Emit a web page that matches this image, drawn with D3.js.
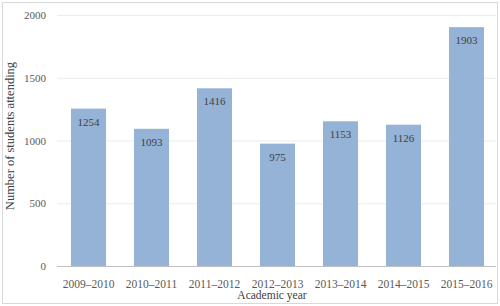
<!DOCTYPE html>
<html>
<head>
<meta charset="utf-8">
<script src="https://cdn.jsdelivr.net/npm/d3@7"></script>
<style>
  body { margin: 0; background: #fff; }
  text { font-family: "Liberation Serif", "DejaVu Serif", serif; }
</style>
</head>
<body>
<div id="container"></div>
<script>
let years = ["2009\u20132010", "2010\u20132011", "2011\u20132012", "2012\u20132013", "2013\u20132014", "2014\u20132015", "2015\u20132016"];
let students = [1254, 1093, 1416, 975, 1153, 1126, 1903];
let yTicks = [0, 500, 1000, 1500, 2000];

let w = 500;
let h = 306;
let viz = d3.select("#container")
  .append("svg")
  .attr("width", w)
  .attr("height", h);

// outer chart border
viz.append("rect")
  .attr("x", 2.5).attr("y", 2.5)
  .attr("width", w - 5).attr("height", h - 5)
  .attr("fill", "#fff")
  .attr("stroke", "#d9d9d9");

let data = years.map(function (y, i) { return { year: y, value: students[i] }; });

let xScale = d3.scaleBand().domain(years).range([57, 498])
  .paddingInner(0.444).paddingOuter(0.222);
let yScale = d3.scaleLinear().domain([0, 2000]).range([266, 15]);

// gridlines
viz.append("g").selectAll("line").data(yTicks.slice(1)).enter()
  .append("line")
  .attr("x1", 57).attr("x2", 496)
  .attr("y1", function (d) { return yScale(d) + 0.5; })
  .attr("y2", function (d) { return yScale(d) + 0.5; })
  .attr("stroke", "#ebebeb");

// y axis labels
let yAxis = d3.axisLeft(yScale).tickValues(yTicks).tickFormat(d3.format("d"))
  .tickSize(0).tickPadding(0);
let yAxisGroup = viz.append("g").attr("transform", "translate(46,0)").call(yAxis);
yAxisGroup.select(".domain").remove();
yAxisGroup.selectAll("text")
  .attr("fill", "#595959")
  .style("font-size", "11px");

// bars
viz.append("g").selectAll("rect").data(data).enter()
  .append("rect")
  .attr("fill", "#95b3d7")
  .attr("x", function (d) { return xScale(d.year); })
  .attr("width", xScale.bandwidth())
  .attr("y", function (d) { return yScale(d.value); })
  .attr("height", function (d) { return yScale(0) - yScale(d.value); });

// value labels
viz.append("g").selectAll("text").data(data).enter()
  .append("text")
  .attr("x", function (d) { return xScale(d.year) + xScale.bandwidth() / 2; })
  .attr("y", function (d) { return yScale(d.value) + 17; })
  .attr("text-anchor", "middle")
  .attr("fill", "#404040")
  .style("font-size", "11px")
  .text(function (d) { return d.value; });

// x axis
let xAxis = d3.axisBottom(xScale).tickSize(0).tickPadding(13);
let xAxisGroup = viz.append("g").attr("transform", "translate(0,266.5)").call(xAxis);
xAxisGroup.select(".domain")
  .attr("stroke", "#bfbfbf")
  .attr("d", "M57,0H496");
xAxisGroup.selectAll("text")
  .attr("fill", "#595959")
  .style("font-size", "11.5px");

// axis titles
viz.append("text")
  .attr("x", 272).attr("y", 299)
  .attr("text-anchor", "middle")
  .attr("fill", "#404040")
  .style("font-size", "11.5px")
  .text("Academic year");

viz.append("text")
  .attr("transform", "translate(14,136) rotate(-90)")
  .attr("text-anchor", "middle")
  .attr("fill", "#404040")
  .style("font-size", "12.5px")
  .text("Number of students attending");
</script>
</body>
</html>
